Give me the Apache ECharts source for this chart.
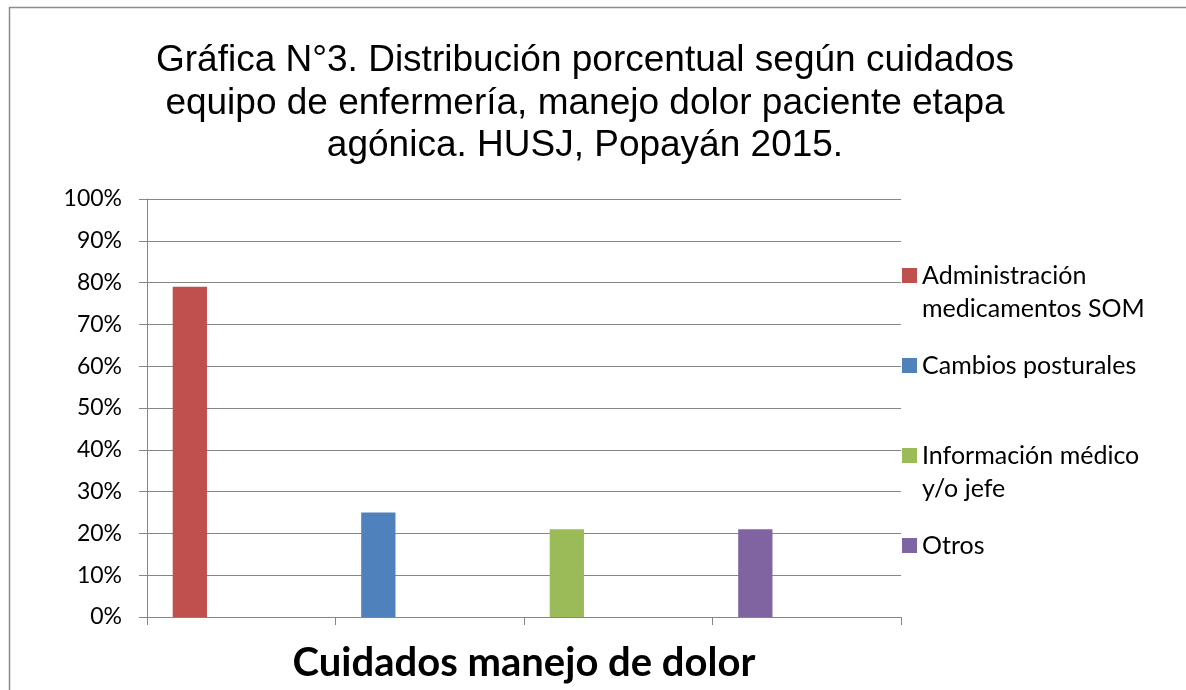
<!DOCTYPE html>
<html>
<head>
<meta charset="utf-8">
<script src="https://cdn.jsdelivr.net/npm/echarts@6/dist/echarts.min.js"></script>
<style>
html,body{margin:0;padding:0;background:#fff;}
#chart{width:1186px;height:690px;}
</style>
</head>
<body>
<div id="chart"></div>
<script>
// ---- data ----
var titleText = 'Gráfica N°3. Distribución porcentual según cuidados\nequipo de enfermería, manejo dolor paciente etapa\nagónica. HUSJ, Popayán 2015.';
var axisTitle = 'Cuidados manejo de dolor';
var categories = ['Administración medicamentos SOM', 'Cambios posturales', 'Información médico y/o jefe', 'Otros'];
var legendNames = ['Administración\nmedicamentos SOM', 'Cambios posturales', 'Información médico\ny/o jefe', 'Otros'];
var values = [79, 25, 21, 21];
var colors = ['#C0504D', '#4F81BD', '#9BBB59', '#8064A2'];
var yTicks = { min: 0, max: 100, interval: 10 };

var bodyFont = 'Lato, "Open Sans", sans-serif';
var series = [];
legendNames.forEach(function (name, i) {
  series.push({
    type: 'bar',
    name: name,
    stack: 'main',
    data: values.map(function (v, j) { return j === i ? v : '-'; }),
    itemStyle: { color: colors[i] },
    barGap: 0,
    barCategoryGap: '27.27%'
  });
});
// empty placeholder series occupying the remaining cluster slots
for (var k = 0; k < 3; k++) {
  series.push({
    type: 'bar',
    name: 'empty' + k,
    stack: 'empty' + k,
    data: categories.map(function () { return '-'; }),
    barGap: 0,
    barCategoryGap: '27.27%',
    silent: true
  });
}

var chart = echarts.init(document.getElementById('chart'), null, { renderer: 'canvas' });
chart.setOption({
  backgroundColor: '#ffffff',
  animation: false,
  graphic: [{
    type: 'rect',
    shape: { x: 9.5, y: 7.5, width: 1400, height: 900 },
    style: { fill: null, stroke: '#8c8c8c', lineWidth: 1.5 },
    silent: true, z: -1
  }],
  title: {
    text: titleText,
    left: 585,
    top: 40,
    padding: 0,
    textAlign: 'center',
    textStyle: {
      fontFamily: '"Liberation Sans", Arial, sans-serif',
      fontSize: 37,
      lineHeight: 42.5,
      fontWeight: 'normal',
      color: '#000'
    }
  },
  legend: {
    data: legendNames,
    orient: 'vertical',
    left: 902,
    top: 226,
    padding: 0,
    itemWidth: 15,
    itemHeight: 15,
    itemGap: 24,
    icon: 'rect',
    selectedMode: false,
    formatter: function (name) {
      // leading blank line keeps the marker level with the first text line
      return name.indexOf('\n') >= 0 ? ' \n' + name : name;
    },
    textStyle: { fontFamily: bodyFont, fontSize: 25, lineHeight: 33, color: '#000' }
  },
  grid: { left: 147, right: 285, top: 199, bottom: 73, containLabel: false },
  xAxis: {
    type: 'category',
    data: categories,
    name: axisTitle,
    nameLocation: 'middle',
    nameGap: 26,
    nameTextStyle: { fontFamily: bodyFont, fontSize: 40, fontWeight: 'bold', color: '#000' },
    axisLine: { lineStyle: { color: '#868686', width: 1 } },
    axisTick: { show: true, interval: 0, length: 8, lineStyle: { color: '#868686' } },
    axisLabel: { show: false, interval: 0 },
    splitLine: { show: false }
  },
  yAxis: {
    type: 'value',
    min: yTicks.min,
    max: yTicks.max,
    interval: yTicks.interval,
    axisLine: { show: true, lineStyle: { color: '#868686', width: 1 } },
    axisTick: { show: true, length: 8, lineStyle: { color: '#868686' } },
    axisLabel: { formatter: '{value}%', fontFamily: bodyFont, fontSize: 23, color: '#000', margin: 25 },
    splitLine: { show: true, lineStyle: { color: '#868686', width: 1 } }
  },
  series: series
});
</script>
</body>
</html>
